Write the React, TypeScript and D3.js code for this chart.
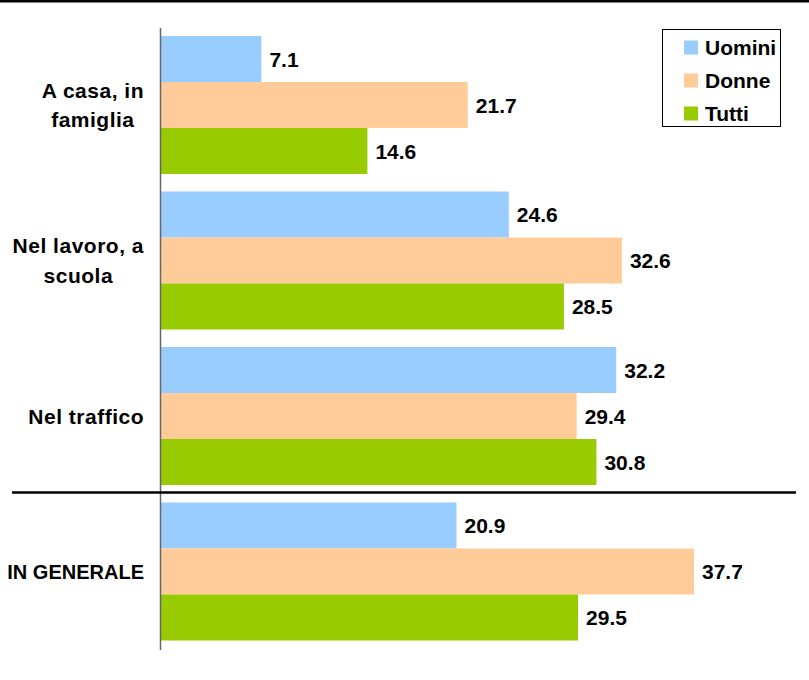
import React, { useEffect, useRef } from "react";
import * as d3 from "d3";

const categories = ["A casa, in|famiglia", "Nel lavoro, a|scuola", "Nel traffico", "IN GENERALE"];
const series = ["Uomini", "Donne", "Tutti"];
const colors = ["#99CCFF", "#FFCC99", "#99CC00"];
const uomini = [7.1, 24.6, 32.2, 20.9];
const donne = [21.7, 32.6, 29.4, 37.7];
const tutti = [14.6, 28.5, 30.8, 29.5];
const values = [uomini, donne, tutti];

const W = 809;
const H = 680;
const FONT = "'Liberation Sans', Arial, sans-serif";

export default function App() {
  const ref = useRef<SVGSVGElement | null>(null);

  useEffect(() => {
    document.body.style.margin = "0";
    const svg = d3.select(ref.current);
    svg.selectAll("*").remove();

    const x = d3.scaleLinear().domain([0, 37.7]).range([161, 694]);
    const y = d3
      .scaleBand<string>()
      .domain(categories)
      .range([36, 640.5])
      .paddingInner(17.5 / 155.5)
      .paddingOuter(0);
    const ys = d3.scaleBand<string>().domain(series).range([0, y.bandwidth()]);

    // top rule
    svg.append("rect").attr("x", 0).attr("y", 0).attr("width", W).attr("height", 2.5).attr("fill", "#000");

    // bars
    categories.forEach((c, ci) => {
      series.forEach((s, si) => {
        const v = values[si][ci];
        const by = (y(c) as number) + (ys(s) as number);
        svg
          .append("rect")
          .attr("x", x(0))
          .attr("y", by)
          .attr("width", x(v) - x(0))
          .attr("height", ys.bandwidth())
          .attr("fill", colors[si]);
        svg
          .append("text")
          .attr("x", x(v) + 8)
          .attr("y", by + ys.bandwidth() / 2 + 7.5)
          .attr("font-family", FONT)
          .attr("font-weight", "bold")
          .attr("font-size", 21)
          .attr("fill", "#000")
          .text(v.toFixed(1));
      });
    });

    // axis line
    svg
      .append("line")
      .attr("x1", 160.5)
      .attr("x2", 160.5)
      .attr("y1", 28)
      .attr("y2", 650)
      .attr("stroke", "#666")
      .attr("stroke-width", 1.5);

    // separator
    const last = categories[categories.length - 1];
    const sepY = (y(last) as number) - 10;
    svg
      .append("line")
      .attr("x1", 12)
      .attr("x2", 796)
      .attr("y1", sepY)
      .attr("y2", sepY)
      .attr("stroke", "#000")
      .attr("stroke-width", 2.5);

    // category labels
    const lineH = 29.5;
    categories.forEach((c) => {
      const lines = c.split("|");
      const cy = (y(c) as number) + y.bandwidth() / 2;
      const g = svg.append("g");
      const upper = c === c.toUpperCase();
      const texts = lines.map((ln, i) =>
        g
          .append("text")
          .attr("y", cy + 7.5 + (i - (lines.length - 1) / 2) * lineH)
          .attr("font-family", FONT)
          .attr("font-weight", "bold")
          .attr("font-size", upper ? 20 : 21)
          .attr("letter-spacing", upper ? 0 : 0.5)
          .attr("text-anchor", "middle")
          .attr("fill", "#000")
          .text(ln)
      );
      const maxW = d3.max(texts, (t) => (t.node() as SVGTextElement).getComputedTextLength()) || 0;
      const center = 144 - maxW / 2;
      texts.forEach((t) => t.attr("x", center));
    });

    // legend
    const lg = svg.append("g");
    lg.append("rect")
      .attr("x", 662.5)
      .attr("y", 29.5)
      .attr("width", 118)
      .attr("height", 97)
      .attr("fill", "#fff")
      .attr("stroke", "#000")
      .attr("stroke-width", 1);
    series.forEach((s, i) => {
      const cy = 47.5 + i * 33;
      lg.append("rect")
        .attr("x", 684)
        .attr("y", cy - 7)
        .attr("width", 14)
        .attr("height", 14)
        .attr("fill", colors[i]);
      lg.append("text")
        .attr("x", 705)
        .attr("y", cy + 7.5)
        .attr("font-family", FONT)
        .attr("font-weight", "bold")
        .attr("font-size", 21)
        .attr("fill", "#000")
        .text(s);
    });
  }, []);

  return <svg ref={ref} width={W} height={H} style={{ display: "block", background: "#fff" }} />;
}
